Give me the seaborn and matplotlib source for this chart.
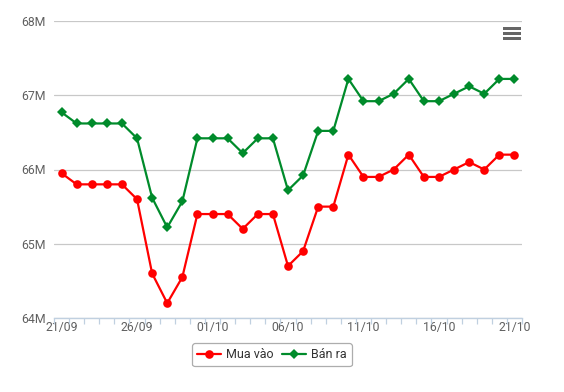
import matplotlib
matplotlib.use("Agg")
import matplotlib.pyplot as plt
import seaborn as sns
import pandas as pd
import numpy as np
from matplotlib.patches import Rectangle

dates = ["21/09", "22/09", "23/09", "24/09", "25/09", "26/09", "27/09", "28/09", "29/09", "30/09",
         "01/10", "02/10", "03/10", "04/10", "05/10", "06/10", "07/10", "08/10", "09/10", "10/10",
         "11/10", "12/10", "13/10", "14/10", "15/10", "16/10", "17/10", "18/10", "19/10", "20/10", "21/10"]
mua_vao = [65.95, 65.8, 65.8, 65.8, 65.8, 65.6, 64.6, 64.2, 64.55, 65.4,
           65.4, 65.4, 65.2, 65.4, 65.4, 64.7, 64.9, 65.5, 65.5, 66.2,
           65.9, 65.9, 66.0, 66.2, 65.9, 65.9, 66.0, 66.1, 66.0, 66.2, 66.2]
ban_ra = [66.77, 66.62, 66.62, 66.62, 66.62, 66.42, 65.62, 65.22, 65.57, 66.42,
          66.42, 66.42, 66.22, 66.42, 66.42, 65.72, 65.92, 66.52, 66.52, 67.22,
          66.92, 66.92, 67.02, 67.22, 66.92, 66.92, 67.02, 67.12, 67.02, 67.22, 67.22]
y_ticks = [64, 65, 66, 67, 68]
y_labels = ["64M", "65M", "66M", "67M", "68M"]

sns.set_theme(style="white")
plt.rcParams["font.family"] = ["Roboto", "DejaVu Sans"]

df = pd.DataFrame({"idx": np.arange(len(dates)), "date": dates,
                   "Mua vào": mua_vao, "Bán ra": ban_ra})

fig = plt.figure(figsize=(5.64, 3.92), dpi=100)
ax = fig.add_axes([54 / 564, 1 - 318 / 392, (522 - 54) / 564, (318 - 21) / 392])

sns.lineplot(data=df, x="idx", y="Mua vào", ax=ax, color="#FF0000", lw=1.6,
             marker="o", markersize=6.2, markeredgewidth=0, label="Mua vào")
sns.lineplot(data=df, x="idx", y="Bán ra", ax=ax, color="#008B2B", lw=1.6,
             marker="D", markersize=4.6, markeredgewidth=0, label="Bán ra")

ax.set_xlim(-0.5, len(dates) - 0.5)
ax.set_ylim(64, 68)
ax.set_yticks(y_ticks)
ax.set_yticklabels(y_labels)
ax.set_xticks(np.arange(0, len(dates), 5))
ax.set_xticklabels([dates[i] for i in range(0, len(dates), 5)])
ax.set_xticks(np.arange(-0.5, len(dates), 1), minor=True)
ax.set_xlabel("")
ax.set_ylabel("")

ax.grid(axis="y", color="#C8C8C8", lw=0.9)
ax.set_axisbelow(True)
for s in ["top", "right", "left"]:
    ax.spines[s].set_visible(False)
ax.spines["bottom"].set_color("#C0D0E0")
ax.spines["bottom"].set_linewidth(1.0)
ax.tick_params(axis="y", length=0, pad=6, labelsize=8.8, labelcolor="#606060")
ax.tick_params(axis="x", which="major", length=0, pad=2.5, labelsize=8.8, labelcolor="#606060")
ax.tick_params(axis="x", which="minor", length=4, width=0.9, color="#C0D0E0", bottom=True)

ax.get_legend().remove()
h, l = ax.get_legend_handles_labels()
leg = fig.legend(h, l, loc="center", bbox_to_anchor=(272 / 564, 1 - 354.5 / 392), ncol=2,
                 frameon=True, fancybox=True, edgecolor="#999999", fontsize=9,
                 handlelength=1.9, handletextpad=0.4, columnspacing=0.7, borderpad=0.4)
leg.get_frame().set_linewidth(0.9)
for t in leg.get_texts():
    t.set_color("#333333")

# menu icon
for yy in [28.3, 33.3, 38.3]:
    fig.patches.append(Rectangle((503 / 564, 1 - (yy + 1.2) / 392), 18 / 564, 2.6 / 392,
                                 transform=fig.transFigure, color="#666666", lw=0))

fig.savefig("out.png", dpi=100)
